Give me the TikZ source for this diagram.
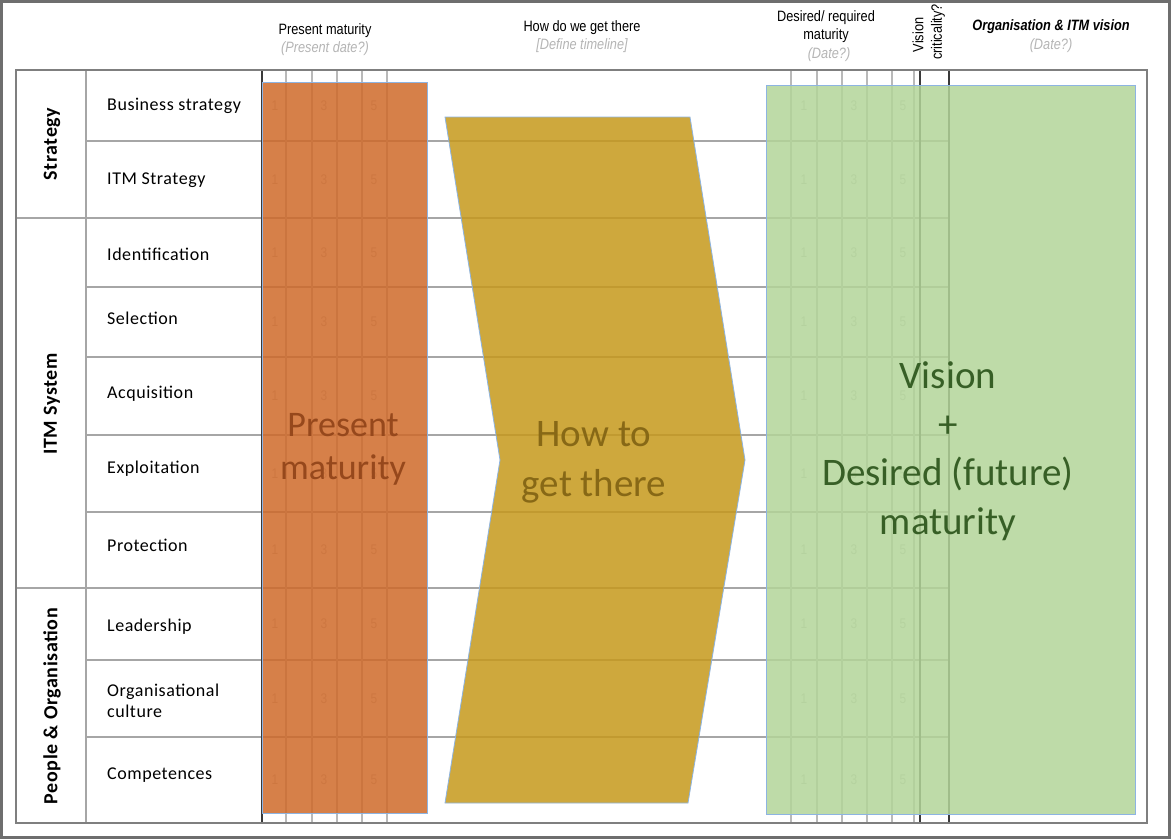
\documentclass[tikz,border=0pt]{standalone}
\usepackage{fontspec}
\setmainfont{Carlito}
\newfontfamily\hdrfont[FakeStretch=0.85]{Liberation Sans}
\newfontfamily\lblfont[LetterSpace=3]{Carlito}
\definecolor{outerc}{HTML}{6E6E6E}
\definecolor{framec}{HTML}{7F7F7F}
\definecolor{gridc}{HTML}{B9B9B9}
\definecolor{rowc}{HTML}{A6A6A6}
\definecolor{darkc}{HTML}{3A3A3A}
\definecolor{orangef}{RGB}{207,106,42}
\definecolor{yellowf}{RGB}{198,153,28}
\definecolor{greenf}{RGB}{179,213,153}
\definecolor{edgeb}{HTML}{8DB4E2}
\definecolor{numc}{HTML}{C4C4C4}
\definecolor{subc}{HTML}{B5B5B5}
\definecolor{ortext}{RGB}{150,72,28}
\definecolor{yetext}{RGB}{135,104,22}
\definecolor{grtext}{RGB}{55,95,38}
\begin{document}
\begin{tikzpicture}[x=1pt,y=-1pt,
  tline/.style={draw=framec,line width=2pt},
  rline/.style={draw=rowc,line width=2pt},
  gline/.style={draw=gridc,line width=1.4pt},
  dline/.style={draw=darkc,line width=2pt},
  num/.style={font=\hdrfont\fontsize{14}{16}\selectfont,text=numc,inner sep=0pt},
  hdr/.style={font=\hdrfont\fontsize{15}{17}\selectfont,inner sep=0pt},
  sub/.style={font=\hdrfont\itshape\fontsize{15}{17}\selectfont,text=subc,inner sep=0pt},
  rowlbl/.style={font=\lblfont\fontsize{18}{21}\selectfont,anchor=west,inner sep=0pt,align=left},
  catlbl/.style={font=\lblfont\bfseries\fontsize{20}{22}\selectfont,rotate=90,inner sep=0pt},
  band/.style={draw=edgeb,line width=0.8pt,fill opacity=0.85},
  big/.style={align=center,inner sep=0pt}]
\useasboundingbox (0,0) rectangle (1173,839);
\fill[white] (0,0) rectangle (1173,839);
\draw[outerc,line width=3pt] (1.5,1.5) rectangle (1169,837.5);

% row separators
\foreach \y in {141,287,357,435,512,660,737} \draw[rline] (86,\y) -- (949,\y);
\foreach \y in {218,588} \draw[rline] (16,\y) -- (949,\y);
% grid columns
\foreach \x in {286,312,337,362,387,791,817,842,867,892,914} \draw[gline] (\x,70) -- (\x,823);
\draw[rline] (86,70) -- (86,823);
\foreach \x in {262,920,949} \draw[dline] (\x,70) -- (\x,823);
\draw[tline] (16,70) rectangle (1147,823);

% scale numbers
\foreach \y in {106,180,253,322,396,474,550,624,699,780}
  \foreach \x/\n in {275/1,324/3,374/5,804/1,854/3,903/5}
    \node[num] (n\x-\y) at (\x,\y) {\n};

% headers
\node[hdr] (h1) at (325,31) {Present maturity};
\node[sub] (h1s) at (325,49) {(Present date?)};
\node[hdr] (h2) at (582,28) {How do we get there};
\node[sub] (h2s) at (582,46) {[Define timeline]};
\node[hdr] (h3a) at (826,18) {Desired/ required};
\node[hdr] (h3b) at (826,36) {maturity};
\node[sub] (h3s) at (829,55) {(Date?)};
\node[hdr,rotate=90] (h4a) at (918,35) {Vision};
\node[hdr,rotate=90] (h4b) at (938,32) {criticality?};
\node[hdr,font=\hdrfont\bfseries\itshape\fontsize{15}{17}\selectfont] (h5) at (1051,27) {Organisation \& ITM vision};
\node[sub] (h5s) at (1051,46) {(Date?)};

% row labels
\node[rowlbl] (r1) at (107,106) {Business strategy};
\node[rowlbl] (r2) at (107,180) {ITM Strategy};
\node[rowlbl] (r3) at (107,254) {Identification};
\node[rowlbl] (r4) at (107,318) {Selection};
\node[rowlbl] (r5) at (107,394) {Acquisition};
\node[rowlbl] (r6) at (107,469) {Exploitation};
\node[rowlbl] (r7) at (107,545) {Protection};
\node[rowlbl] (r8) at (107,627) {Leadership};
\node[rowlbl] (r9) at (107,701) {Organisational\\culture};
\node[rowlbl] (r10) at (107,775) {Competences};

% category labels
\node[catlbl] (c1) at (52,144) {Strategy};
\node[catlbl] (c2) at (52,404) {ITM System};
\node[catlbl] (c3) at (52,706) {People \& Organisation};

% coloured bands
\path[band,fill=orangef] (262,82) rectangle (427,813);
\path[band,fill=yellowf] (445,117) -- (690,117) -- (745,460) -- (688,803) -- (445,803) -- (500,460) -- cycle;
\path[band,fill=greenf] (766,85) rectangle (1135,814);

% big texts
\node[big,text=ortext,font=\fontsize{36}{43}\selectfont] (bt1) at (343,449) {Present\\maturity};
\node[big,text=yetext,font=\fontsize{39}{50}\selectfont] (bt2) at (594,462) {How to\\get there};
\node[big,text=grtext,font=\fontsize{39}{48.5}\selectfont] (bt3) at (948,451) {Vision\\+\\Desired (future)\\maturity};
\end{tikzpicture}
\end{document}
